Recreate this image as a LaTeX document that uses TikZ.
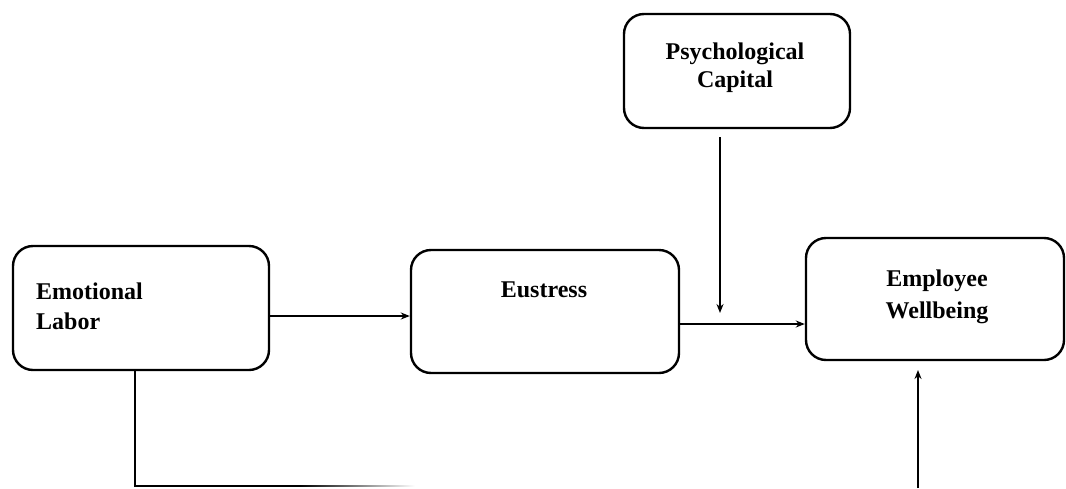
\documentclass[tikz,border=0pt]{standalone}
\usepackage{fontspec}
\setmainfont{Liberation Serif}
\usetikzlibrary{arrows.meta}
\begin{document}
\begin{tikzpicture}[x=1pt,y=-1pt,
  box/.style={draw, line width=2.4pt, rounded corners=20pt, inner sep=0pt},
  lbl/.style={inner sep=0pt, font=\fontsize{24}{30}\selectfont\bfseries},
  conn/.style={line width=1.8pt},
  arr/.style={conn, -{Stealth[length=9pt,width=7pt]}}]
\useasboundingbox (0,0) rectangle (1066,488);
% boxes
\node[box, minimum width=256pt, minimum height=124pt] (EL) at (141,308) {};
\node[box, minimum width=268pt, minimum height=123pt] (ES) at (545,311.5) {};
\node[box, minimum width=258pt, minimum height=122pt] (EW) at (935,299) {};
\node[box, minimum width=226pt, minimum height=114pt] (PC) at (737,71) {};
% labels
\node[lbl, anchor=north west, align=left] (ELt) at (36,283) {Emotional\\Labor};
\node[lbl, anchor=north] (ESt) at (544,282) {Eustress};
\node[lbl, anchor=north, align=center, font=\fontsize{24}{32}\selectfont\bfseries] (EWt) at (937,270) {Employee\\Wellbeing};
\node[lbl, anchor=north, align=center, font=\fontsize{24}{28}\selectfont\bfseries] (PCt) at (735,43) {Psychological\\Capital};
% coordinates
\coordinate (b1) at (135,486);
\coordinate (b2) at (300,486);
\coordinate (b3) at (918,488);
\coordinate (m1) at (720,313);
\coordinate (p1) at (720,137);
% connectors
\draw[arr] (EL.east |- 0,316) -- (ES.west |- 0,316);
\draw[arr] (ES.east |- 0,324) -- (EW.west |- 0,324);
\draw[arr] (p1) -- (m1);
\draw[arr] (b3) -- (918,370);
\draw[conn] (EL.south -| b1) -- (b1) -- (b2);
\shade[left color=black, right color=white] (300,485.1) rectangle (415,486.9);
\end{tikzpicture}
\end{document}
